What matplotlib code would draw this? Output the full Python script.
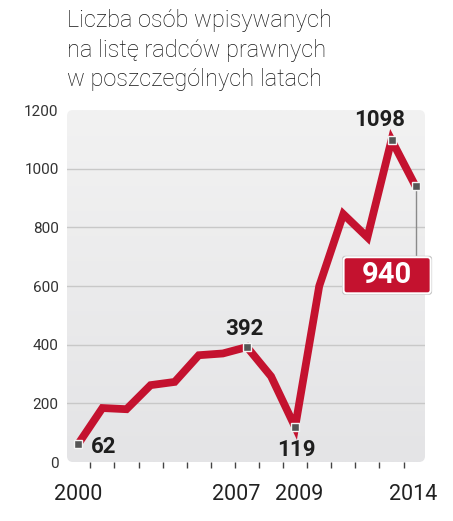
import matplotlib
matplotlib.use("Agg")
import matplotlib.pyplot as plt
import matplotlib.transforms as mtransforms
import numpy as np
from matplotlib.patches import FancyBboxPatch

# ---- data ----
years = [2000, 2001, 2002, 2003, 2004, 2005, 2006, 2007, 2008, 2009, 2010, 2011, 2012, 2013, 2014]
values = [62, 184, 180, 262, 273, 364, 370, 392, 292, 119, 600, 845, 766, 1098, 940]
marked_years = [2000, 2007, 2009, 2013, 2014]
xtick_labels = ["2000", "2007", "2009", "2014"]
xtick_years = [2000, 2007, 2009, 2014]
yticks = [0, 200, 400, 600, 800, 1000, 1200]
title_lines = ["Liczba osób wpisywanych", "na listę radców prawnych", "w poszczególnych latach"]

RED = "#c4122f"
W, H, DPI = 453, 521, 100
fig = plt.figure(figsize=(W / DPI, H / DPI), dpi=DPI)
fig.patch.set_facecolor("white")

L, R, T, B = 67, 425, 110, 462
X0, X1 = 1999.53, 2014.39
ax = fig.add_axes([L / W, 1 - B / H, (R - L) / W, (B - T) / H])
ax.set_xlim(X0, X1)
ax.set_ylim(0, 1200)
for s in ax.spines.values():
    s.set_visible(False)
ax.set_facecolor("none")

# rounded gradient panel
panel = FancyBboxPatch((L / DPI, (H - B) / DPI), (R - L) / DPI, (B - T) / DPI,
                       boxstyle="round,pad=0,rounding_size=0.06",
                       transform=fig.dpi_scale_trans, facecolor="none", edgecolor="none")
grad = np.linspace(0, 1, 256).reshape(-1, 1)
cmap = matplotlib.colors.LinearSegmentedColormap.from_list("g", ["#e4e4e6", "#f2f2f2"])
im = ax.imshow(grad, extent=[X0, X1, 0, 1200], aspect="auto", cmap=cmap,
               zorder=0, origin="lower")
im.set_clip_path(panel)
ax.set_xlim(X0, X1)
ax.set_ylim(0, 1200)

# gridlines
for yv in yticks[1:-1]:
    ax.axhline(yv, color="#c8c8c8", lw=1.0, zorder=1)

# line
ax.plot(years, values, color=RED, lw=5.6, zorder=3, solid_joinstyle="miter", solid_capstyle="butt")
mx = list(marked_years)
my = [values[years.index(y)] for y in marked_years]
ax.plot(mx, my, ls="none", marker="s", ms=6, mfc="#555555", mec="#f4f4f4", mew=1.0, zorder=5)

# ticks
ax.set_yticks(yticks)
ax.set_yticklabels([str(v) for v in yticks], fontsize=11, color="#333333", family=["Roboto", "DejaVu Sans"])
ax.tick_params(axis="y", length=0, pad=6)
ax.set_xticks(xtick_years)
ax.set_xticklabels(xtick_labels, fontsize=15.5, color="#222222", family=["Roboto", "DejaVu Sans"])
ax.tick_params(axis="x", which="major", length=0, pad=16)
ax.set_xticks([y + 0.5 for y in years[:-1]], minor=True)
ax.tick_params(axis="x", which="minor", length=4, width=1, color="#444444", direction="out")
shifts = {"2007": -10.5, "2009": 4, "2014": -2}
for lbl in ax.get_xticklabels():
    dx = shifts.get(lbl.get_text(), 0)
    if dx:
        lbl.set_transform(lbl.get_transform() + mtransforms.ScaledTranslation(dx / DPI, 0, fig.dpi_scale_trans))

# value labels
bold = dict(family=["Roboto", "DejaVu Sans"], fontweight="bold", color="#1e1e1e")
def lab(year, txt, dx, dy, size=16):
    ax.annotate(txt, (year, values[years.index(year)]), xytext=(dx, dy),
                textcoords="offset pixels", ha="center", va="center", fontsize=size,
                zorder=6, **bold)
lab(2000, "62", 25, -3)
lab(2007, "392", -3, 18)
lab(2009, "119", 1, -23)
lab(2013, "1098", -12, 20)

# 940 callout
v14 = values[years.index(2014)]
px, py = ax.transData.transform((2014, v14))
ident = mtransforms.IdentityTransform()
ax.plot([px, px], [py, py - 72], color="#8a8a8a", lw=1, transform=ident, zorder=4, clip_on=False)
shadow = FancyBboxPatch((px - 73.5, py - 108.5), 90, 39, boxstyle="round,pad=0,rounding_size=3",
                        transform=ident, fc="#c4c4c4", ec="none", zorder=6.5, clip_on=False)
box = FancyBboxPatch((px - 72, py - 107), 87, 36, boxstyle="round,pad=0,rounding_size=3",
                     transform=ident, fc=RED, ec="white", lw=1.4, zorder=6.6, clip_on=False)
ax.add_artist(shadow)
ax.add_artist(box)
ax.annotate("940", (2014, v14), xytext=(-28.5, -89), textcoords="offset pixels",
            ha="center", va="center", fontsize=21, fontweight="bold", color="white",
            family=["Roboto", "DejaVu Sans"], zorder=7, annotation_clip=False)

# title
tfam = ["Roboto", "DejaVu Sans"]
for i, line in enumerate(title_lines):
    fig.text(L / W, 1 - (27 + 29.5 * i) / H, line, fontsize=17, family=tfam,
             fontweight="light", color="#151515", ha="left", va="baseline")

fig.savefig("out.png", dpi=DPI)
